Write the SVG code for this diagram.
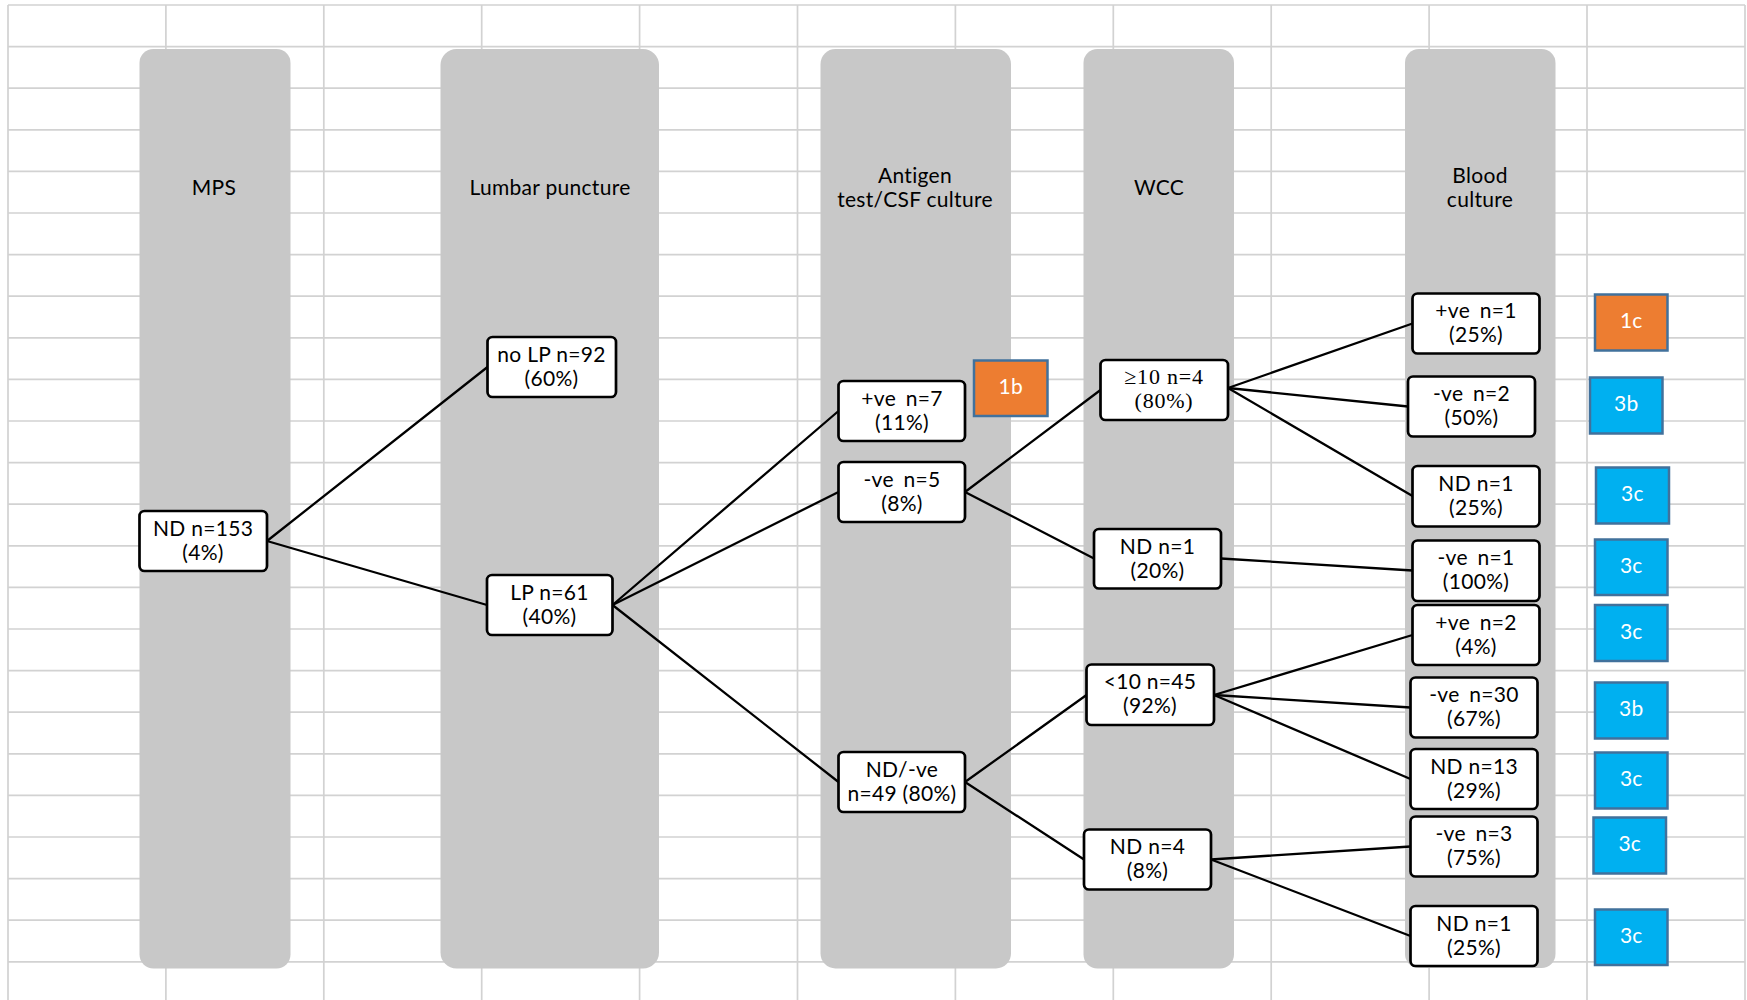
<svg xmlns="http://www.w3.org/2000/svg" width="1747" height="1000" viewBox="0 0 1747 1000">
  <defs>
    <style>
      .grid { stroke: #d2d2d2; stroke-width: 1.7; fill: none; }
      .lane { fill: #c8c8c8; }
      .head { font-family: Lato, "Liberation Sans", sans-serif; font-size: 21px; fill: #000; text-anchor: middle; letter-spacing: 0.3px; }
      .box { fill: #ffffff; stroke: #000; stroke-width: 2.7; }
      .txt { font-family: Lato, "Liberation Sans", sans-serif; font-size: 21px; fill: #000; text-anchor: middle; letter-spacing: 0.3px; }
      .wide { word-spacing: 4px; }
      .serif { font-family: "Liberation Serif", "Times New Roman", serif; font-size: 22px; fill: #000; text-anchor: middle; letter-spacing: 0.8px; }
      .link { stroke: #000; stroke-width: 2.3; fill: none; stroke-linecap: round; }
      .tag-o { fill: #ed7d31; stroke: #41719c; stroke-width: 2.5; }
      .tag-b { fill: #00b0f0; stroke: #41719c; stroke-width: 2.5; }
      .tag-t { font-family: Lato, "Liberation Sans", sans-serif; font-size: 21px; fill: #ffffff; text-anchor: middle; letter-spacing: 0.3px; }
    </style>
  </defs>

  <rect x="0" y="0" width="1747" height="1000" fill="#ffffff"/>

  <!-- spreadsheet grid -->
  <g id="grid" class="grid">
    <path d="M8,5H1745 M8,46.6H1745 M8,88.2H1745 M8,129.8H1745 M8,171.4H1745 M8,213H1745 M8,254.6H1745 M8,296.2H1745 M8,337.8H1745 M8,379.4H1745 M8,421H1745 M8,462.6H1745 M8,504.2H1745 M8,545.8H1745 M8,587.4H1745 M8,629H1745 M8,670.6H1745 M8,712.2H1745 M8,753.8H1745 M8,795.4H1745 M8,837H1745 M8,878.6H1745 M8,920.2H1745 M8,961.8H1745"/>
    <path d="M8,5V1000 M165.9,5V1000 M323.8,5V1000 M481.7,5V1000 M639.6,5V1000 M797.5,5V1000 M955.4,5V1000 M1113.3,5V1000 M1271.2,5V1000 M1429.1,5V1000 M1587,5V1000 M1745,5V1000"/>
  </g>

  <!-- stage lanes -->
  <g id="lanes">
    <rect class="lane" x="139.5" y="49" width="151" height="919.5" rx="14"/>
    <rect class="lane" x="440.5" y="49" width="218.5" height="919.5" rx="16"/>
    <rect class="lane" x="820.5" y="49" width="190.5" height="919.5" rx="15"/>
    <rect class="lane" x="1083.5" y="49" width="150.5" height="919.5" rx="14"/>
    <rect class="lane" x="1405" y="49" width="150.5" height="919" rx="14"/>
  </g>

  <!-- lane headings -->
  <g id="headings">
    <text class="head" x="214" y="195">MPS</text>
    <text class="head" x="550" y="195">Lumbar puncture</text>
    <text class="head" x="915" y="182.5">Antigen</text>
    <text class="head" x="915" y="207">test/CSF culture</text>
    <text class="head" x="1159" y="195">WCC</text>
    <text class="head" x="1480" y="182.5">Blood</text>
    <text class="head" x="1480" y="207">culture</text>
  </g>

  <!-- connectors -->
  <g id="connectors" class="link">
    <line x1="267" y1="541" x2="487.5" y2="367"/>
    <line x1="267" y1="541" x2="487" y2="605"/>
    <line x1="612.5" y1="605" x2="838.5" y2="411"/>
    <line x1="612.5" y1="605" x2="838.5" y2="492"/>
    <line x1="612.5" y1="605" x2="838.5" y2="782"/>
    <line x1="965" y1="492" x2="1100.5" y2="390"/>
    <line x1="965" y1="492" x2="1094" y2="558.5"/>
    <line x1="965" y1="782" x2="1086.5" y2="695"/>
    <line x1="965" y1="782" x2="1084" y2="859.5"/>
    <line x1="1228" y1="388" x2="1412.5" y2="323.5"/>
    <line x1="1228" y1="388" x2="1408" y2="406.5"/>
    <line x1="1228" y1="388" x2="1412.5" y2="496"/>
    <line x1="1221" y1="558.5" x2="1412.5" y2="570.5"/>
    <line x1="1214" y1="695" x2="1412.5" y2="635"/>
    <line x1="1214" y1="695" x2="1410.5" y2="707.5"/>
    <line x1="1214" y1="695" x2="1410.5" y2="779"/>
    <line x1="1211" y1="859.5" x2="1410.5" y2="846.5"/>
    <line x1="1211" y1="859.5" x2="1410.5" y2="936"/>
  </g>

  <!-- MPS -->
  <g id="mps-nd">
    <rect class="box" x="139.5" y="511" width="127.5" height="60" rx="5"/>
    <text class="txt" x="203" y="535.5">ND n=153</text>
    <text class="txt" x="203" y="559.5">(4%)</text>
  </g>

  <!-- Lumbar puncture -->
  <g id="lp-none">
    <rect class="box" x="487.5" y="337" width="128.5" height="60" rx="5"/>
    <text class="txt" x="551.5" y="361.5">no LP n=92</text>
    <text class="txt" x="551.5" y="385.5">(60%)</text>
  </g>
  <g id="lp-done">
    <rect class="box" x="487" y="575" width="125.5" height="60" rx="5"/>
    <text class="txt" x="549.5" y="599.5">LP n=61</text>
    <text class="txt" x="549.5" y="623.5">(40%)</text>
  </g>

  <!-- Antigen test / CSF culture -->
  <g id="ag-pos">
    <rect class="box" x="838.5" y="381" width="126.5" height="60" rx="5"/>
    <text class="txt wide" x="902" y="405.5">+ve n=7</text>
    <text class="txt" x="902" y="429.5">(11%)</text>
  </g>
  <g id="ag-neg">
    <rect class="box" x="838.5" y="462" width="126.5" height="60" rx="5"/>
    <text class="txt wide" x="902" y="486.5">-ve n=5</text>
    <text class="txt" x="902" y="510.5">(8%)</text>
  </g>
  <g id="ag-nd">
    <rect class="box" x="838.5" y="752" width="126.5" height="60" rx="5"/>
    <text class="txt" x="902" y="776.5">ND/-ve</text>
    <text class="txt" x="902" y="800.5">n=49 (80%)</text>
  </g>
  <g id="tag-1b">
    <rect class="tag-o" x="974" y="360.5" width="73.5" height="55.5"/>
    <text class="tag-t" x="1010.7" y="393.5">1b</text>
  </g>

  <!-- WCC -->
  <g id="wcc-high">
    <rect class="box" x="1100.5" y="360" width="127.5" height="60" rx="5"/>
    <text class="serif" x="1164" y="383.5">≥10 n=4</text>
    <text class="serif" x="1164" y="407.5">(80%)</text>
  </g>
  <g id="wcc-nd-a">
    <rect class="box" x="1094" y="529" width="127" height="59.5" rx="5"/>
    <text class="txt" x="1157.5" y="553.5">ND n=1</text>
    <text class="txt" x="1157.5" y="577.5">(20%)</text>
  </g>
  <g id="wcc-low">
    <rect class="box" x="1086.5" y="664.5" width="127.5" height="60.5" rx="5"/>
    <text class="txt" x="1150" y="689">&lt;10 n=45</text>
    <text class="txt" x="1150" y="713">(92%)</text>
  </g>
  <g id="wcc-nd-b">
    <rect class="box" x="1084" y="829.5" width="127" height="60" rx="5"/>
    <text class="txt" x="1147.5" y="854">ND n=4</text>
    <text class="txt" x="1147.5" y="878">(8%)</text>
  </g>

  <!-- Blood culture -->
  <g id="bc-1">
    <rect class="box" x="1412.5" y="293.5" width="127" height="60" rx="5"/>
    <text class="txt wide" x="1476" y="318">+ve n=1</text>
    <text class="txt" x="1476" y="342">(25%)</text>
  </g>
  <g id="bc-2">
    <rect class="box" x="1408" y="376.5" width="127" height="60" rx="5"/>
    <text class="txt wide" x="1471.5" y="401">-ve n=2</text>
    <text class="txt" x="1471.5" y="425">(50%)</text>
  </g>
  <g id="bc-3">
    <rect class="box" x="1412.5" y="466" width="127" height="60.5" rx="5"/>
    <text class="txt" x="1476" y="490.5">ND n=1</text>
    <text class="txt" x="1476" y="514.5">(25%)</text>
  </g>
  <g id="bc-4">
    <rect class="box" x="1412.5" y="540.5" width="127" height="60.5" rx="5"/>
    <text class="txt wide" x="1476" y="565">-ve n=1</text>
    <text class="txt" x="1476" y="589">(100%)</text>
  </g>
  <g id="bc-5">
    <rect class="box" x="1412.5" y="605" width="127" height="60" rx="5"/>
    <text class="txt wide" x="1476" y="629.5">+ve n=2</text>
    <text class="txt" x="1476" y="653.5">(4%)</text>
  </g>
  <g id="bc-6">
    <rect class="box" x="1410.5" y="677.5" width="127" height="60" rx="5"/>
    <text class="txt wide" x="1474" y="702">-ve n=30</text>
    <text class="txt" x="1474" y="726">(67%)</text>
  </g>
  <g id="bc-7">
    <rect class="box" x="1410.5" y="749" width="127" height="60" rx="5"/>
    <text class="txt" x="1474" y="773.5">ND n=13</text>
    <text class="txt" x="1474" y="797.5">(29%)</text>
  </g>
  <g id="bc-8">
    <rect class="box" x="1410.5" y="816.5" width="127" height="60" rx="5"/>
    <text class="txt wide" x="1474" y="841">-ve n=3</text>
    <text class="txt" x="1474" y="865">(75%)</text>
  </g>
  <g id="bc-9">
    <rect class="box" x="1410.5" y="906" width="127" height="60" rx="5"/>
    <text class="txt" x="1474" y="930.5">ND n=1</text>
    <text class="txt" x="1474" y="954.5">(25%)</text>
  </g>

  <!-- outcome tags -->
  <g id="tag-1c">
    <rect class="tag-o" x="1595" y="294.5" width="72.5" height="56"/>
    <text class="tag-t" x="1631.3" y="328">1c</text>
  </g>
  <g id="tag-3b-a">
    <rect class="tag-b" x="1590" y="377.5" width="72.5" height="56"/>
    <text class="tag-t" x="1626.3" y="411">3b</text>
  </g>
  <g id="tag-3c-a">
    <rect class="tag-b" x="1596" y="467.5" width="73" height="56"/>
    <text class="tag-t" x="1632.5" y="501">3c</text>
  </g>
  <g id="tag-3c-b">
    <rect class="tag-b" x="1595" y="539.5" width="72.5" height="55.5"/>
    <text class="tag-t" x="1631.3" y="572.8">3c</text>
  </g>
  <g id="tag-3c-c">
    <rect class="tag-b" x="1595" y="605" width="72.5" height="56"/>
    <text class="tag-t" x="1631.3" y="638.5">3c</text>
  </g>
  <g id="tag-3b-b">
    <rect class="tag-b" x="1595" y="682.5" width="72.5" height="56"/>
    <text class="tag-t" x="1631.3" y="716">3b</text>
  </g>
  <g id="tag-3c-d">
    <rect class="tag-b" x="1595" y="752.5" width="72.5" height="56"/>
    <text class="tag-t" x="1631.3" y="786">3c</text>
  </g>
  <g id="tag-3c-e">
    <rect class="tag-b" x="1593.5" y="817.5" width="72.5" height="56"/>
    <text class="tag-t" x="1629.8" y="851">3c</text>
  </g>
  <g id="tag-3c-f">
    <rect class="tag-b" x="1595" y="909.5" width="72.5" height="55.5"/>
    <text class="tag-t" x="1631.3" y="942.8">3c</text>
  </g>
</svg>
